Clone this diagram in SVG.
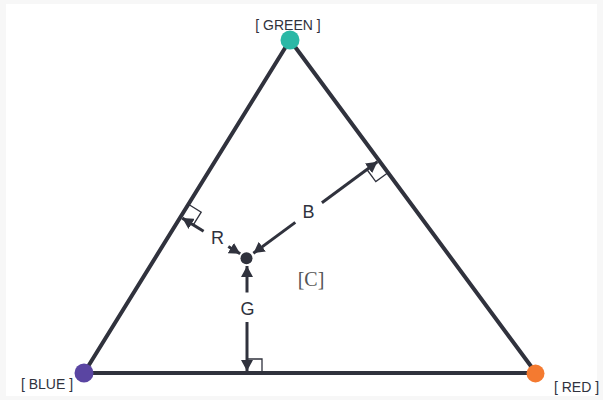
<svg xmlns="http://www.w3.org/2000/svg" width="603" height="400" viewBox="0 0 603 400">
  <style>
    .edge { stroke: #30323d; stroke-width: 4; stroke-linecap: round; fill: none; }
    .arr { stroke: #30323d; stroke-width: 3; fill: none; marker-end: url(#ah); }
    .sq { stroke: #30323d; stroke-width: 1.3; fill: none; }
    .vlab { font-family: "Liberation Sans", Arial, sans-serif; font-size: 14px; fill: #30323d; text-anchor: middle; }
    .clab { font-family: "Liberation Sans", Arial, sans-serif; font-size: 18px; fill: #30323d; text-anchor: middle; }
  </style>
  <defs>
    <marker id="ah" markerUnits="userSpaceOnUse" markerWidth="12" markerHeight="12" refX="11" refY="6" orient="auto">
      <path d="M0,0 L11,6 L0,12 z" fill="#30323d"/>
    </marker>
  </defs>
  <rect x="0" y="0" width="603" height="400" fill="#f7f7f7"/>
  <rect x="6" y="4" width="591" height="392" fill="#ffffff"/>

  <g id="connectors">
    <line class="edge" x1="290" y1="40" x2="536" y2="373"/>
    <line class="edge" x1="536" y1="373" x2="84" y2="373"/>
    <line class="edge" x1="84" y1="373" x2="290" y2="40"/>

    <!-- R -->
    <line class="arr" x1="228.3" y1="246.5" x2="240.2" y2="253.8"/>
    <line class="arr" x1="203.6" y1="231.2" x2="182.3" y2="218.1"/>
    <polyline class="sq" points="188.4,204.3 201.2,212.1 193.3,224.9"/>
    <!-- B -->
    <line class="arr" x1="295.3" y1="222.4" x2="253.4" y2="253.2"/>
    <line class="arr" x1="321.9" y1="202.8" x2="377.4" y2="161.8"/>
    <polyline class="sq" points="387.9,172.7 375.8,181.6 366.9,169.5"/>
    <!-- G -->
    <line class="arr" x1="247" y1="292.5" x2="247" y2="266"/>
    <line class="arr" x1="247" y1="322" x2="247" y2="371"/>
    <polyline class="sq" points="262,373 262,359 247,359"/>

    <text class="clab" x="217.5" y="243.5">R</text>
    <text class="clab" x="308.5" y="217.5">B</text>
    <text class="clab" x="247.5" y="314.5">G</text>
  </g>

  <g id="green">
    <circle cx="290" cy="40" r="9.5" fill="#2bb8a6"/>
    <text class="vlab" x="288" y="30">[ GREEN ]</text>
  </g>
  <g id="blue">
    <circle cx="84" cy="373" r="9.5" fill="#5a45a2"/>
    <text class="vlab" x="47" y="389">[ BLUE ]</text>
  </g>
  <g id="red">
    <circle cx="535.5" cy="373.5" r="9" fill="#f47a30"/>
    <text class="vlab" x="576.5" y="392">[ RED ]</text>
  </g>
  <g id="center">
    <circle cx="246.5" cy="258.3" r="6" fill="#30323d"/>
  </g>
  <g id="label-c">
    <text x="311" y="286" font-family="'Liberation Serif', 'Times New Roman', serif" font-size="20" fill="#555555" text-anchor="middle">[C]</text>
  </g>
</svg>
